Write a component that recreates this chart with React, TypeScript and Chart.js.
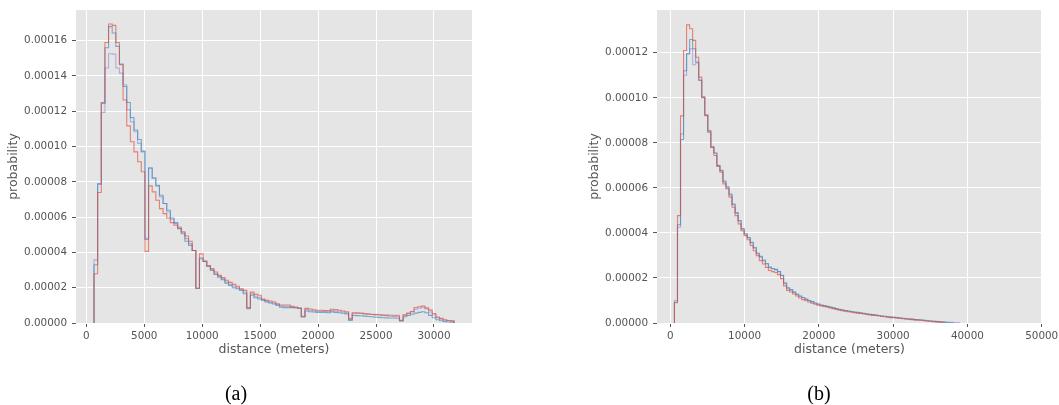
import React, { useEffect, useRef } from "react";
import { Chart, registerables } from "chart.js";

Chart.register(...registerables);

// ---------- Panel (a) ----------
const BIN_START_A = 664;
const BIN_WIDTH_A = 313.8;
// probability values in units of 1e-6
const RED_A = [
  27.9, 74, 125, 159, 169.5, 168.7, 159, 146.4, 126.4, 111.7,
  102.7, 97, 91.4, 85.7, 40.6, 77.7, 74.3, 69.6, 64.8, 62,
  59.5, 56.9, 55.4, 53.8, 51.6, 49.3, 46.3, 41.1, 19.7, 39.2,
  34.9, 32.6, 30.8, 28.9, 27, 25.7, 24.2, 23, 21.9, 20.8,
  19.4, 18.5, 8.7, 17.5, 16.2, 15.7, 13.6, 12.8, 12.5, 11.9,
  10.9, 10.2, 10.2, 10.2, 9.4, 9.1, 8.5, 3.8, 8.3, 7.9,
  7.5, 7.2, 7.2, 7.0, 7.0, 7.8, 7.6, 7.2, 6.8, 6.4,
  2.5, 5.7, 5.6, 5.5, 5.2, 5.0, 4.8, 4.6, 4.5, 4.3,
  4.2, 4.0, 3.9, 3.8, 1.5, 4.6, 5.6, 6.5, 8.8, 9.2,
  9.6, 8.6, 7.3, 5.3, 3.4, 2.6, 1.8, 1.4, 1.2,
];
const BLUE_A = [
  33, 78.7, 124.5, 156, 168, 164.4, 156.8, 146.7, 134, 125,
  116.4, 109.4, 104, 97.4, 47.4, 88, 82.3, 77.7, 72.4, 67.7,
  63.9, 59.5, 56.9, 53.5, 50.6, 46.3, 44, 41.1, 19.7, 36.4,
  34.9, 32.1, 29.8, 27.5, 26, 24.5, 22.6, 21.3, 20, 19.4,
  18.5, 16.6, 8.1, 15.7, 14.3, 13.6, 12.8, 11.9, 11.3, 10.8,
  10, 9, 8.7, 8.7, 8.7, 8.5, 8.3, 3.4, 6.8, 6.4,
  6.2, 6.0, 6.0, 6.0, 5.8, 6.3, 6.0, 5.8, 5.5, 5.2,
  1.5, 4.3, 4.2, 4.1, 3.9, 3.7, 3.5, 3.3, 3.2, 3.0,
  2.9, 2.8, 2.8, 2.7, 1.1, 3.5, 4.3, 5.0, 5.6, 6.0,
  6.4, 5.8, 4.3, 3.0, 1.8, 1.3, 0.8, 0.6, 0.5,
];
const PURPLE_A = [
  35.8, 79, 119.4, 144.5, 152.6, 152.4, 144.5, 141.6, 135, 120.8,
  114, 108.4, 101.8, 97, 48.2, 87.6, 81.9, 78.1, 71.5, 67.7,
  62.9, 58.8, 56.3, 54.4, 51.6, 47.8, 45, 41.1, 19.7, 37,
  34.9, 32.3, 30.2, 28, 26.5, 25, 23.2, 22, 20.8, 20,
  19, 17.4, 8.4, 16.5, 15.2, 14.5, 13.3, 12.4, 11.8, 11.3,
  10.5, 9.6, 9.4, 9.4, 9.0, 8.8, 8.4, 3.6, 7.6, 7.2,
  6.9, 6.6, 6.6, 6.6, 6.4, 7.0, 6.8, 6.4, 6.2, 5.8,
  2.0, 5.8, 5.7, 5.6, 5.4, 5.2, 5.0, 4.9, 4.8, 4.7,
  4.6, 4.5, 4.4, 4.3, 1.3, 4.4, 5.4, 6.3, 7.8, 8.4,
  9.0, 8.0, 6.2, 4.5, 3.0, 2.2, 1.6, 1.3, 1.1,
];
const X_TICKS_A = [0, 5000, 10000, 15000, 20000, 25000, 30000];
const Y_TICKS_A = [0, 0.00002, 0.00004, 0.00006, 0.00008, 0.0001, 0.00012, 0.00014, 0.00016];

// ---------- Panel (b) ----------
const BIN_START_B = 560;
const BIN_WIDTH_B = 408;
const RED_B = [
  9.2, 47.7, 92, 121, 132.4, 130.7, 125.5, 118, 109.2, 100.3,
  92.1, 85.5, 78, 74.4, 69.9, 67, 61.8, 59.6, 55.9, 51.4,
  47.7, 44, 41, 38.8, 37, 34.4, 32.1, 29.9, 27.7, 26.2,
  24.7, 23.3, 22.8, 22.4, 21.5, 19.7, 16.5, 14.5, 13.8, 12.9,
  12.0, 11.1, 10.4, 9.9, 9.3, 8.8, 8.3, 7.9, 7.6, 7.3,
  7.0, 6.7, 6.4, 6.0, 5.7, 5.5, 5.2, 5.0, 4.8, 4.6,
  4.4, 4.2, 4.0, 3.8, 3.6, 3.4, 3.3, 3.1, 2.9, 2.8,
  2.6, 2.4, 2.3, 2.2, 2.1, 1.9, 1.8, 1.7, 1.5, 1.4,
  1.3, 1.2, 1.0, 0.9, 0.8, 0.6, 0.5, 0.4, 0.3,
];
const BLUE_B = [
  9.0, 43.6, 81.5, 112, 119.6, 125.9, 121.8, 115.9, 107.7, 100.3,
  92.4, 84.7, 78, 75.5, 69.5, 67.8, 63, 60.5, 57.3, 52.8,
  49, 45.5, 41.8, 39.5, 38, 35.8, 33.5, 31, 29.6, 28,
  26.4, 24.8, 24.2, 23.8, 22.8, 21.2, 17.8, 15.6, 14.8, 13.7,
  12.8, 12.0, 11.3, 10.6, 10.0, 9.5, 8.9, 8.4, 8.0, 7.7,
  7.4, 7.1, 6.8, 6.4, 6.1, 5.8, 5.5, 5.3, 5.1, 4.9,
  4.7, 4.5, 4.3, 4.1, 3.9, 3.7, 3.5, 3.3, 3.1, 3.0,
  2.8, 2.6, 2.5, 2.4, 2.2, 2.1, 1.9, 1.8, 1.7, 1.5,
  1.4, 1.3, 1.2, 1.0, 0.9, 0.8, 0.6, 0.5, 0.4, 0.3,
  0.2, 0.1,
];
const PURPLE_B = [
  10, 42.5, 84, 110, 119.6, 121.8, 114.7, 115.5, 108, 100,
  92.5, 85, 78.5, 75.5, 70, 67.5, 62.5, 60, 56.8, 52.5,
  48.8, 45.2, 41.8, 39.5, 37.8, 35.5, 33.2, 30.8, 29.2, 27.6,
  26.2, 24.6, 24.0, 23.6, 22.8, 21.0, 17.5, 15.4, 14.6, 13.6,
  12.7, 11.9, 11.2, 10.5, 9.9, 9.4, 8.8, 8.3, 7.9, 7.6,
  7.3, 7.0, 6.7, 6.3, 6.0, 5.7, 5.5, 5.2, 5.0, 4.8,
  4.6, 4.4, 4.2, 4.0, 3.8, 3.6, 3.5, 3.3, 3.1, 2.9,
  2.8, 2.6, 2.5, 2.3, 2.2, 2.0, 1.9, 1.8, 1.6, 1.5,
  1.4, 1.3, 1.1, 1.0, 0.9, 0.8, 0.7, 0.6, 0.5, 0.4,
  0.35, 0.3, 0.25, 0.2,
];
const X_TICKS_B = [0, 10000, 20000, 30000, 40000, 50000];
const Y_TICKS_B = [0, 0.00002, 0.00004, 0.00006, 0.00008, 0.0001, 0.00012];

const SERIES_COLORS = [
  "rgba(226,74,51,0.65)",
  "rgba(52,138,189,0.65)",
  "rgba(152,142,213,0.65)",
];

const FONT = "'DejaVu Sans', sans-serif";
const TEXT = "#555555";

function stepPoints(start: number, width: number, vals: number[]) {
  const pts: { x: number; y: number }[] = [{ x: start, y: 0 }];
  vals.forEach((v, i) => {
    const y = v * 1e-6;
    pts.push({ x: start + i * width, y });
    pts.push({ x: start + (i + 1) * width, y });
  });
  pts.push({ x: start + vals.length * width, y: 0 });
  return pts;
}

const bgPlugin = {
  id: "plotBg",
  beforeDraw(chart: any) {
    const { ctx, chartArea } = chart;
    ctx.save();
    ctx.fillStyle = "#E5E5E5";
    ctx.fillRect(chartArea.left, chartArea.top, chartArea.right - chartArea.left, chartArea.bottom - chartArea.top);
    ctx.restore();
  },
};

type PanelProps = {
  left: number;
  width: number;
  padRight: number;
  start: number;
  binWidth: number;
  series: number[][];
  xMin: number;
  xMax: number;
  yMax: number;
  xTicks: number[];
  yTicks: number[];
};

function Panel(p: PanelProps) {
  const ref = useRef<HTMLCanvasElement | null>(null);
  useEffect(() => {
    if (!ref.current) return;
    const chart = new Chart(ref.current, {
      type: "line",
      data: {
        datasets: p.series.map((vals, i) => ({
          data: stepPoints(p.start, p.binWidth, vals),
          borderColor: SERIES_COLORS[i],
          borderWidth: 1.1,
          pointRadius: 0,
          fill: false,
          tension: 0,
        })),
      },
      options: {
        responsive: false,
        animation: false,
        events: [],
        layout: { padding: { left: 0, top: 10, right: p.padRight, bottom: 46 } },
        plugins: { legend: { display: false }, tooltip: { enabled: false } },
        scales: {
          x: {
            type: "linear",
            min: p.xMin,
            max: p.xMax,
            afterBuildTicks: (s: any) => {
              s.ticks = p.xTicks.map((v) => ({ value: v }));
            },
            afterFit: (s: any) => {
              s.height = 36;
              s.paddingLeft = 0;
              s.paddingRight = 0;
            },
            grid: { color: "#FFFFFF", lineWidth: 1, tickColor: TEXT, tickLength: 4 },
            border: { display: false },
            ticks: {
              color: TEXT,
              font: { family: FONT, size: 10.4 },
              padding: 3,
              maxRotation: 0,
              autoSkip: false,
              callback: (v: any) => String(v),
            },
            title: {
              display: true,
              text: "distance (meters)",
              color: TEXT,
              font: { family: FONT, size: 12.5 },
              padding: { top: 0, bottom: 1.5 },
            },
          },
          y: {
            type: "linear",
            min: 0,
            max: p.yMax,
            afterBuildTicks: (s: any) => {
              s.ticks = p.yTicks.map((v) => ({ value: v }));
            },
            afterFit: (s: any) => {
              s.width = 76;
              s.paddingTop = 0;
              s.paddingBottom = 0;
            },
            grid: { color: "#FFFFFF", lineWidth: 1, tickColor: TEXT, tickLength: 4 },
            border: { display: false },
            ticks: {
              color: TEXT,
              font: { family: FONT, size: 10.4 },
              padding: 5,
              autoSkip: false,
              callback: (v: any) => Number(v).toFixed(5),
            },
            title: {
              display: true,
              text: "probability",
              color: TEXT,
              font: { family: FONT, size: 12.5 },
              padding: { top: 6, bottom: 0 },
            },
          },
        },
      },
      plugins: [bgPlugin],
    } as any);
    return () => chart.destroy();
  }, []);
  return (
    <canvas
      ref={ref}
      width={p.width}
      height={405}
      style={{ position: "absolute", left: p.left, top: 0, width: p.width, height: 405 }}
    />
  );
}

const captionStyle: React.CSSProperties = {
  position: "absolute",
  top: 381,
  width: 60,
  textAlign: "center",
  fontFamily: "'Liberation Serif', serif",
  fontSize: 20,
  lineHeight: "24px",
  color: "#000",
};

export default function App() {
  return (
    <div style={{ position: "absolute", left: 0, top: 0, width: 1059, height: 405, background: "#fff" }}>
      <Panel
        left={0}
        width={530}
        padRight={58}
        start={BIN_START_A}
        binWidth={BIN_WIDTH_A}
        series={[RED_A, BLUE_A, PURPLE_A]}
        xMin={-889}
        xMax={33279}
        yMax={0.0001774}
        xTicks={X_TICKS_A}
        yTicks={Y_TICKS_A}
      />
      <Panel
        left={581}
        width={478}
        padRight={17}
        start={BIN_START_B}
        binWidth={BIN_WIDTH_B}
        series={[RED_B, BLUE_B, PURPLE_B]}
        xMin={-1790}
        xMax={50040}
        yMax={0.000139}
        xTicks={X_TICKS_B}
        yTicks={Y_TICKS_B}
      />
      <div style={{ ...captionStyle, left: 206 }}>(a)</div>
      <div style={{ ...captionStyle, left: 789 }}>(b)</div>
    </div>
  );
}
